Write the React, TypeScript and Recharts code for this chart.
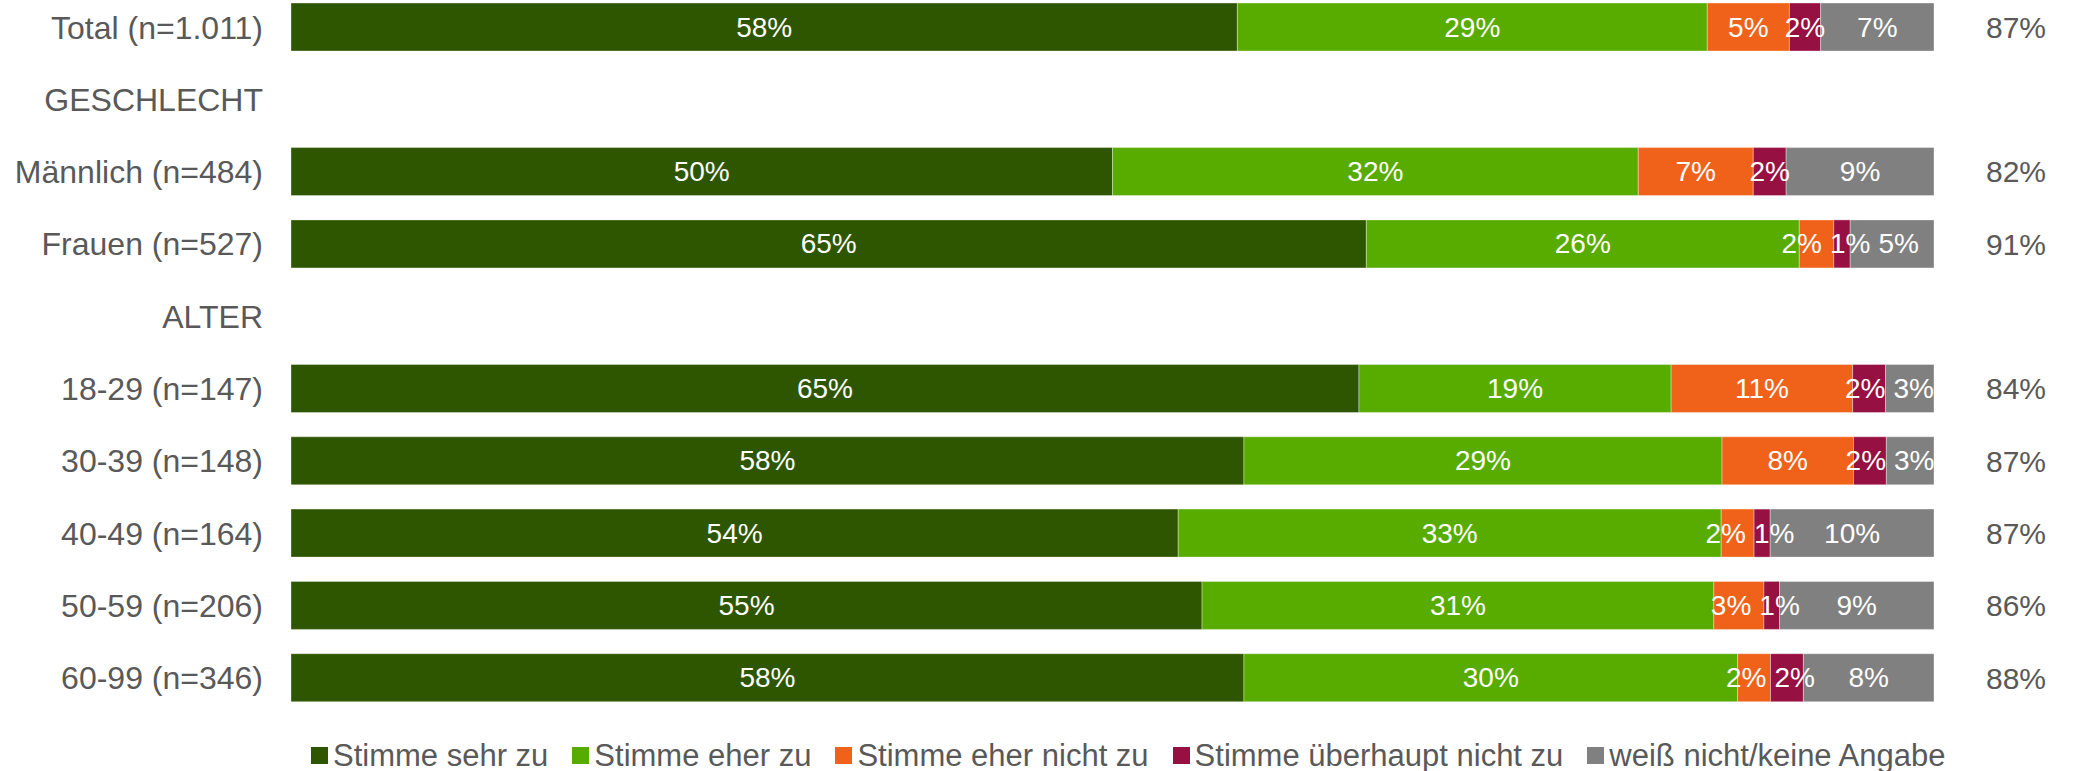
import { BarChart, Bar, XAxis, YAxis, Legend, LabelList } from 'recharts';

// Kategorien (inkl. Zwischenüberschriften)
const categories = [
    'Total (n=1.011)',
    'GESCHLECHT',
    'Männlich (n=484)',
    'Frauen (n=527)',
    'ALTER',
    '18-29 (n=147)',
    '30-39 (n=148)',
    '40-49 (n=164)',
    '50-59 (n=206)',
    '60-99 (n=346)',
];

// Anteile in % (null = Überschriftzeile ohne Balken)
const sehrZu = [57.6, null, 50.0, 65.45, null, 65.0, 58.0, 54.0, 55.45, 58.0];
const eherZu = [28.6, null, 32.0, 26.35, null, 19.0, 29.1, 33.05, 31.15, 30.05];
const eherNicht = [5.0, null, 7.0, 2.1, null, 11.05, 8.0, 2.0, 3.05, 2.0];
const ueberhauptNicht = [1.9, null, 2.0, 1.0, null, 2.0, 2.0, 0.98, 0.95, 2.0];
const weissNicht = [6.9, null, 9.0, 5.1, null, 2.95, 2.9, 9.97, 9.4, 7.95];

// Zustimmung gesamt (rechte Spalte)
const zustimmung = [87, null, 82, 91, null, 84, 87, 87, 86, 88];

const series = [
    { key: 'sehrZu', name: 'Stimme sehr zu', color: '#2E5600', values: sehrZu },
    { key: 'eherZu', name: 'Stimme eher zu', color: '#58AC00', values: eherZu },
    { key: 'eherNicht', name: 'Stimme eher nicht zu', color: '#F0621A', values: eherNicht },
    { key: 'ueberhauptNicht', name: 'Stimme überhaupt nicht zu', color: '#961042', values: ueberhauptNicht },
    { key: 'weissNicht', name: 'weiß nicht/keine Angabe', color: '#808080', values: weissNicht },
];

const data = categories.map((name, i) => {
    const row: Record<string, string | number | null> = { name };
    series.forEach((s) => { row[s.key] = s.values[i]; });
    return row;
});

// LabelList zählt nur Zeilen mit Balken -> Zuordnung zur Datenzeile
const barRows = categories.map((_, i) => i).filter((i) => sehrZu[i] !== null);

const FONT = '"Liberation Sans", Arial, sans-serif';
const TEXT = '#595959';
const LABEL_SIZE = 28;
const LABEL_PAD = 8;

const pct = (v: any) => (v === null || v === undefined ? '' : `${Math.round(Number(v))}%`);

// grobe Textbreite (Arial-Metrik)
const textWidth = (s: string, size: number) =>
    s.split('').reduce((w, c) => w + (c === '%' ? 0.889 : 0.556), 0) * size;

// Labels einer Zeile auseinanderschieben, falls sie sich überlappen (Offsets in px)
function labelOffsets(row: number, pxPerPct: number) {
    const vals = series.map((s) => Number(s.values[row] ?? 0));
    let start = 0;
    const centers = vals.map((v) => { const c = (start + v / 2) * pxPerPct; start += v; return c; });
    const widths = vals.map((v) => textWidth(pct(v), LABEL_SIZE));
    const pos = [...centers];
    for (let pass = 0; pass < 20; pass++) {
        for (let i = 0; i < pos.length - 1; i++) {
            const overlap = pos[i] + widths[i] / 2 + LABEL_PAD - (pos[i + 1] - widths[i + 1] / 2);
            if (overlap > 0.01) {
                pos[i] -= overlap / 2;
                pos[i + 1] += overlap / 2;
            }
        }
    }
    return pos.map((p, i) => p - centers[i]);
}

const makeLabel = (seriesIndex: number) => (props: any) => {
    const vb = props.viewBox ?? props;
    const { value, index } = props;
    if (value === null || value === undefined || vb?.x === undefined) return null;
    const x = Number(vb.x), y = Number(vb.y), w = Number(vb.width), h = Number(vb.height);
    let dx = 0;
    const row = typeof index === 'number' ? barRows[index] : undefined;
    if (row !== undefined && w > 0 && Number(value) > 0) {
        dx = labelOffsets(row, w / Number(value))[seriesIndex];
    }
    return (
        <text
            x={x + w / 2 + dx}
            y={y + h / 2}
            textAnchor="middle"
            dominantBaseline="central"
            fill="#ffffff"
            fontSize={LABEL_SIZE}
            fontFamily={FONT}
        >
            {pct(value)}
        </text>
    );
};

function LegendContent() {
    return (
        <div style={{ height: 57, boxSizing: 'border-box', paddingTop: 26, paddingLeft: 311, display: 'flex', fontFamily: FONT, fontSize: 31, lineHeight: '30px', color: TEXT, whiteSpace: 'nowrap' }}>
            {series.map((s) => (
                <span key={s.key} style={{ display: 'inline-flex', alignItems: 'center', marginRight: 24 }}>
                    <span style={{ width: 17, height: 17, background: s.color, marginRight: 5, display: 'inline-block' }} />
                    {s.name}
                </span>
            ))}
        </div>
    );
}

export default function App() {
    return (
        <div style={{ position: 'absolute', left: 0, top: 0, background: '#fff' }}>
            <BarChart
                width={2083}
                height={771}
                data={data}
                layout="vertical"
                margin={{ top: -9, right: 0, bottom: 0, left: 0 }}
            >
                <XAxis type="number" domain={[0, 100]} hide />
                <YAxis
                    type="category"
                    dataKey="name"
                    width={291}
                    axisLine={false}
                    tickLine={false}
                    tickSize={0}
                    tickMargin={28}
                    interval={0}
                    tick={{ fill: TEXT, fontSize: 32, fontFamily: FONT }}
                />
                <YAxis
                    yAxisId="right"
                    orientation="right"
                    type="category"
                    dataKey="name"
                    width={149}
                    axisLine={false}
                    tickLine={false}
                    tickSize={0}
                    tickMargin={52}
                    interval={0}
                    tick={{ fill: TEXT, fontSize: 30, fontFamily: FONT }}
                    tickFormatter={(v: string) => {
                        const i = categories.indexOf(v);
                        return zustimmung[i] === null ? '' : `${zustimmung[i]}%`;
                    }}
                />
                <Legend verticalAlign="bottom" content={<LegendContent />} wrapperStyle={{ left: 0, width: 2083 }} />
                {series.map((s, si) => (
                    <Bar
                        key={s.key}
                        dataKey={s.key}
                        name={s.name}
                        stackId="a"
                        fill={s.color}
                        barSize={48}
                        stroke="#ffffff"
                        strokeOpacity={0.35}
                        strokeWidth={1}
                        isAnimationActive={false}
                    >
                        <LabelList dataKey={s.key} content={makeLabel(si)} />
                    </Bar>
                ))}
            </BarChart>
        </div>
    );
}
